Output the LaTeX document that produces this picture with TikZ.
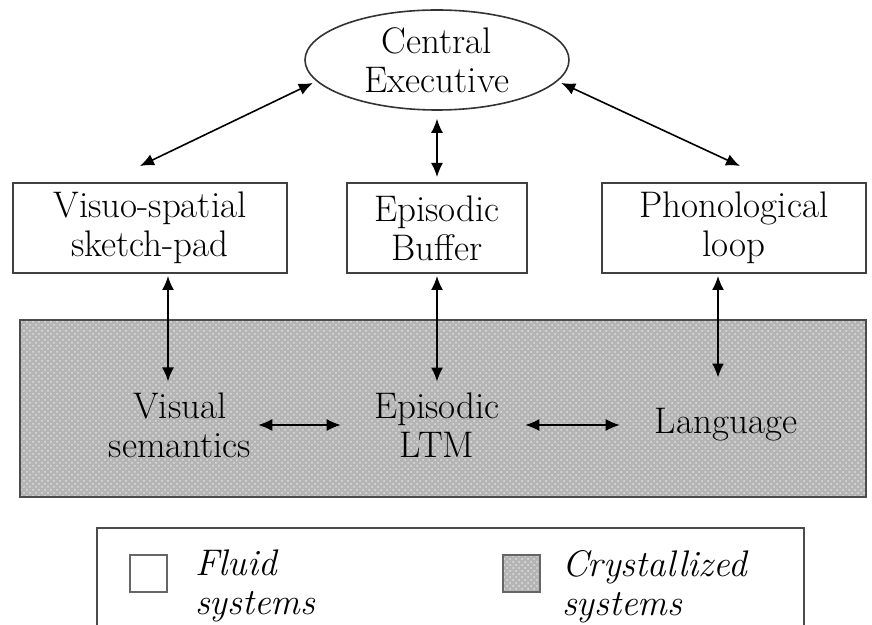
\documentclass[tikz,border=0pt]{standalone}
\usepackage{tikz}
\usetikzlibrary{arrows.meta,patterns,shapes.geometric}

\begin{document}
\begin{tikzpicture}[x=0.5pt,y=-0.5pt, every node/.style={font=\fontsize{18.5}{19.5}\selectfont,align=center},
      box/.style={draw=black!75,line width=1pt,fill=white,minimum height=45pt,inner sep=1pt},
      link/.style={{Latex[length=7pt,width=6pt]}-{Latex[length=7pt,width=6pt]},line width=0.8pt}]
      \useasboundingbox (0,0) rectangle (872,625);
      % crystallized area
      \fill[gray!58] (20,320) rectangle (866,497);
      \fill[pattern=crosshatch dots,pattern color=gray!25] (20,320) rectangle (866,497);
      \draw[black!70,line width=1pt] (20,320) rectangle (866,497);
      \node[draw=black!80,line width=0.8pt,ellipse,minimum width=132pt,minimum height=50pt,inner sep=0pt] (ce) at (437,60) {Central\\Executive};
      \node[box,minimum width=137pt] (vs) at (150,228) {Visuo-spatial\\sketch-pad};
      \node[box,minimum width=90pt] (eb) at (437,228) {Episodic\\Buffer};
      \node[box,minimum width=132pt] (pl) at (734,228) {Phonological\\loop};
      \node (vsem) at (180,425) {Visual\\semantics};
      \node[minimum width=88pt] (eltm) at (437,425) {Episodic\\LTM};
      \node[minimum width=96pt] (lang) at (726,425) {Language};
      \draw[link,shorten <=2pt] (ce.190) -- ([shift={(-5pt,8pt)}]vs.north);
      \draw[link,shorten <=2pt] (ce.350) -- ([shift={(3pt,8pt)}]pl.north);
      \draw[link,shorten <=4pt,shorten >=2.5pt] (ce.south) -- (eb.north);
      \draw[link,shorten <=1pt] ([xshift=-6pt]vsem.north |- vs.south) -- ([xshift=-6pt,yshift=2pt]vsem.north);
      \draw[link,shorten <=1pt] (eb.south) -- ([yshift=2pt]eltm.north);
      \draw[link,shorten <=1pt] ([xshift=-4pt]lang.north |- pl.south) -- ([xshift=-4pt,yshift=12pt]lang.north);
      \draw[link,line width=0.6pt,shorten >=4pt] (vsem.east) -- (eltm.west);
      \draw[link,line width=0.6pt,shorten >=5pt] (eltm.east) -- (lang.west);
      % legend
      \draw[black!70,line width=1pt] (97,625) -- (97,528) -- (804,528) -- (804,625);
      \draw[black!60,line width=0.8pt] (130,555) rectangle (167,592);
      \fill[gray!58] (503,555) rectangle (540,592);
      \fill[pattern=crosshatch dots,pattern color=gray!25] (503,555) rectangle (540,592);
      \draw[black!60,line width=0.8pt] (503,555) rectangle (540,592);
      \node[anchor=north west,align=left,font=\fontsize{18.5}{19.5}\selectfont\itshape] (fluid) at (188,543) {Fluid\\systems};
      \node[anchor=north west,align=left,font=\fontsize{18.5}{19.5}\selectfont\itshape] (cryst) at (555,543) {Crystallized\\systems};
    \end{tikzpicture}
\end{document}
